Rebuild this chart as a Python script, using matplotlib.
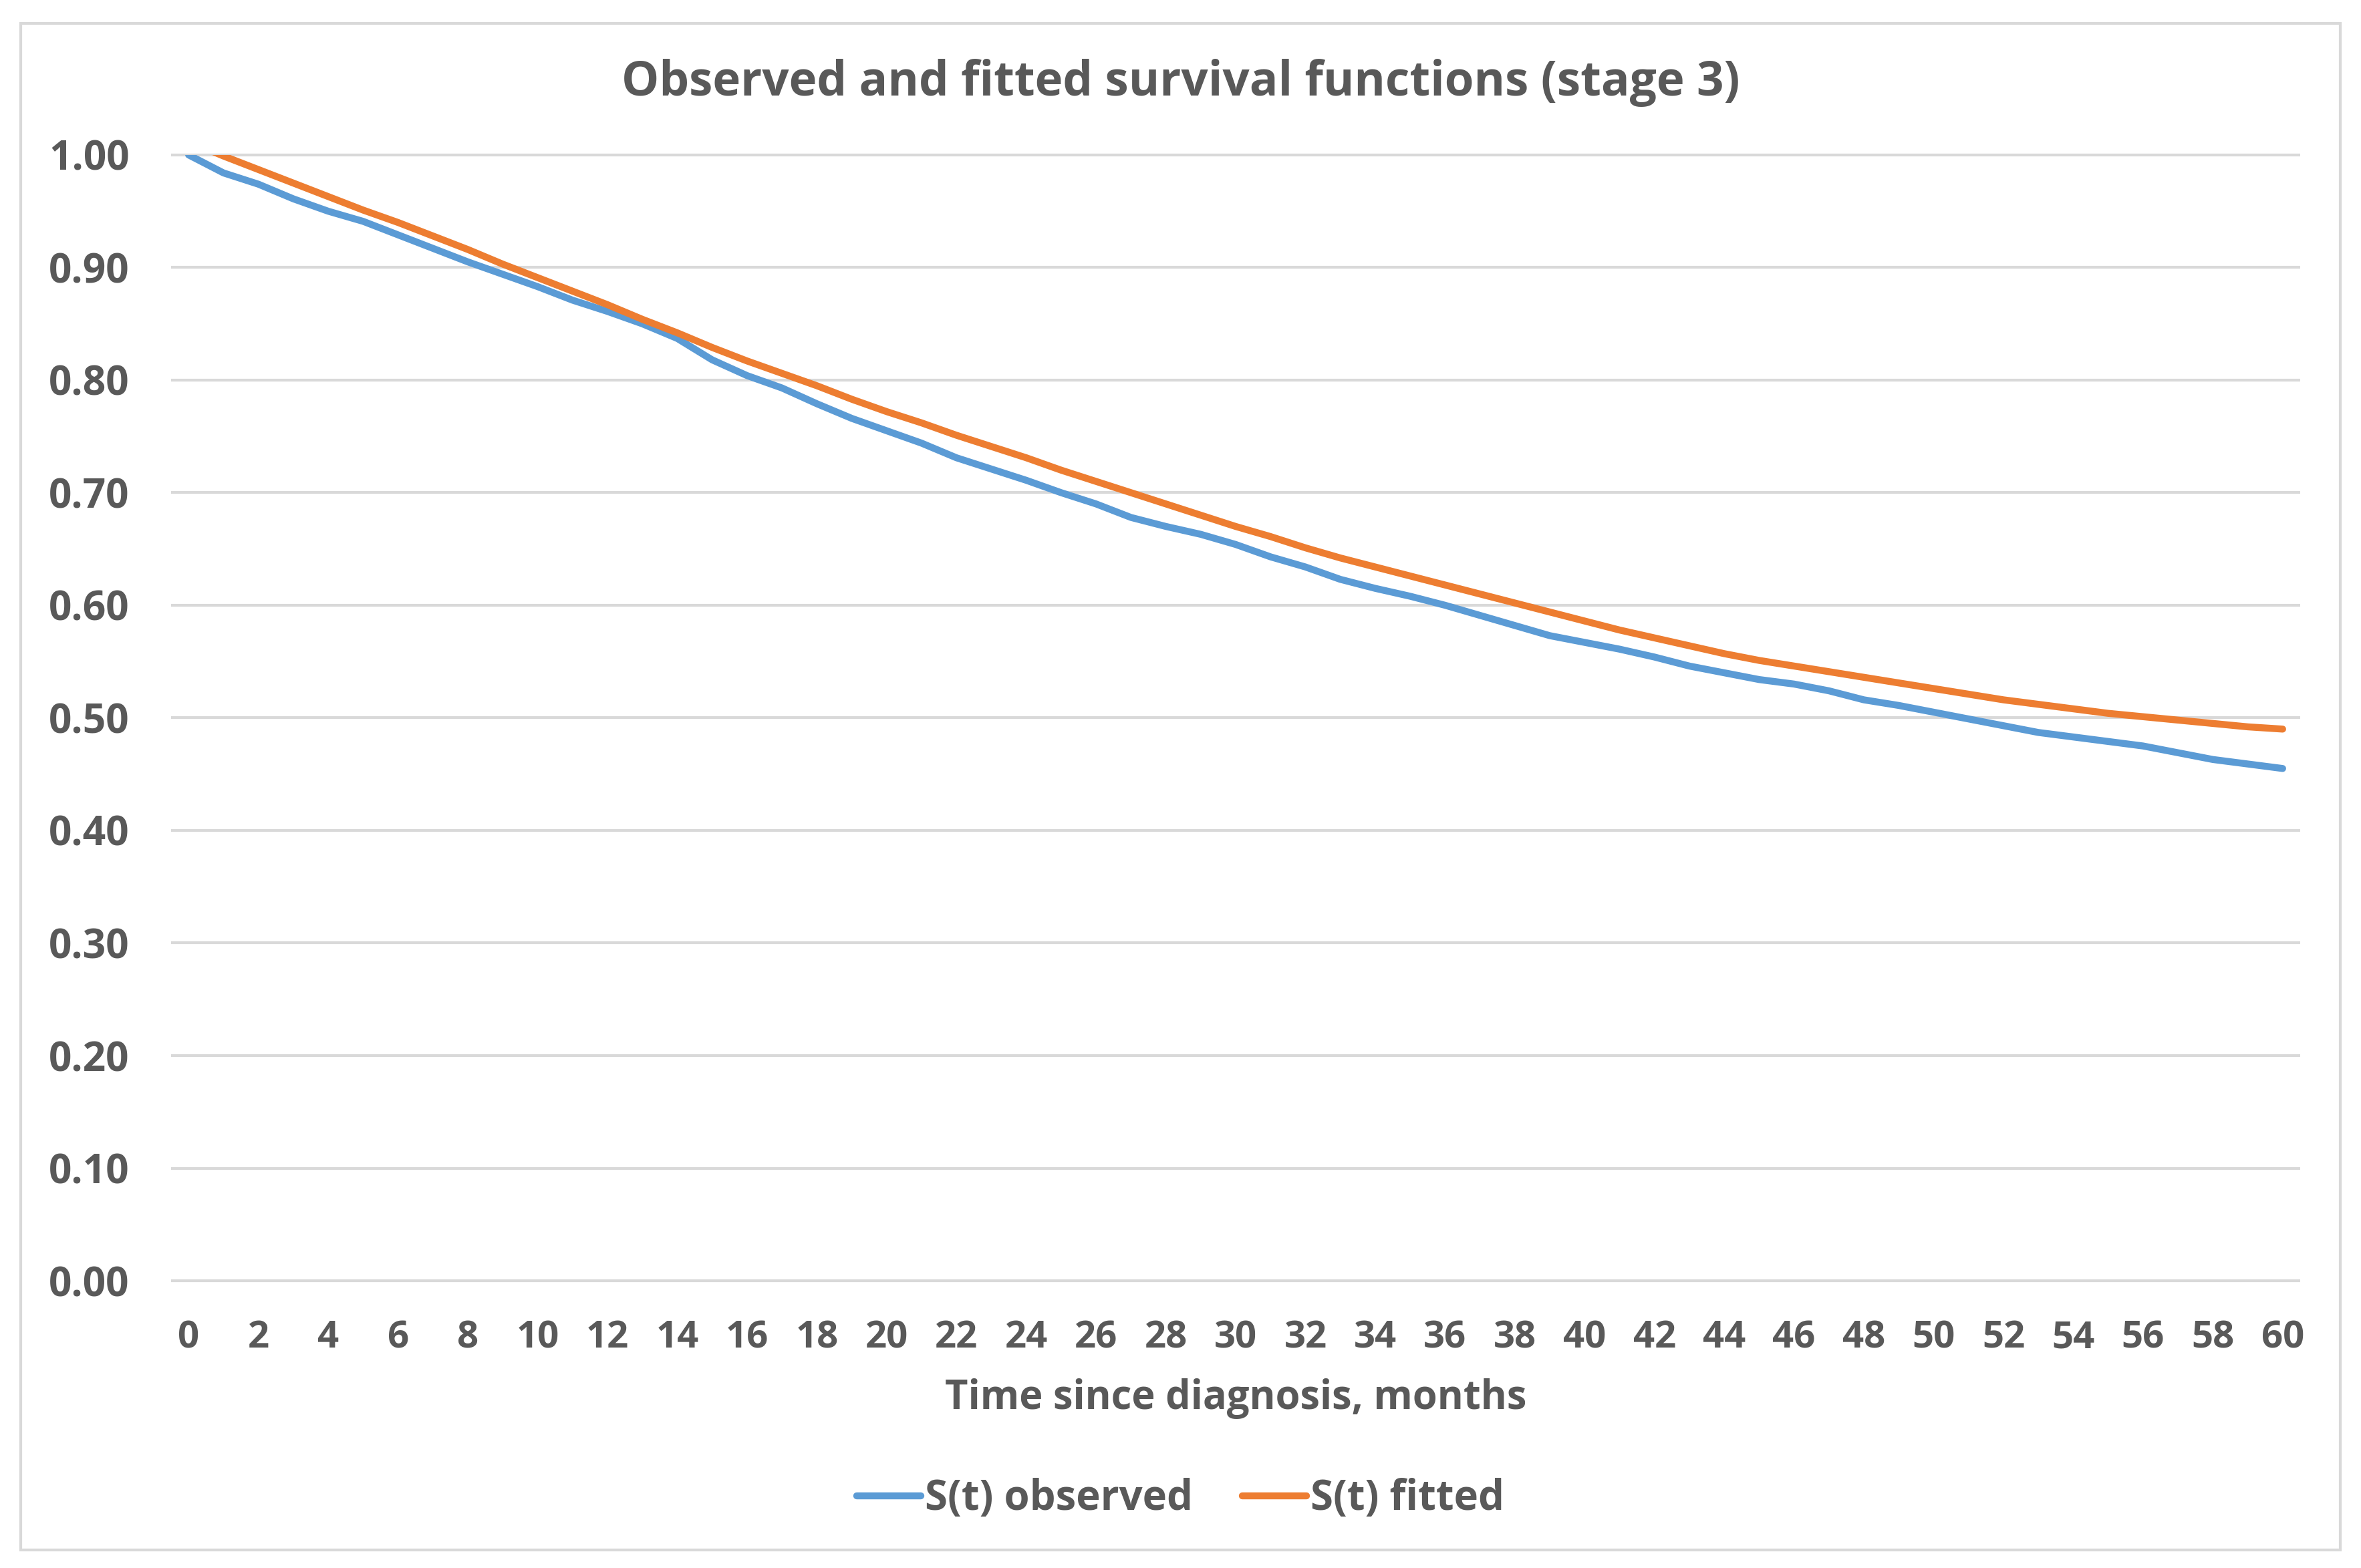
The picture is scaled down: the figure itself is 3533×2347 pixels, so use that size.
import numpy as np
import matplotlib
matplotlib.use("Agg")
import matplotlib.pyplot as plt
from matplotlib.patches import Rectangle

plt.rcParams['font.family'] = ['Open Sans', 'DejaVu Sans']
plt.rcParams['font.weight'] = 'bold'

# months since diagnosis (categories)
months = np.arange(0, 61)

# observed survival S(t)
observed = [1.000, 0.984, 0.974, 0.961, 0.950, 0.941, 0.929, 0.917, 0.905, 0.894,
            0.883, 0.871, 0.861, 0.850, 0.837, 0.818, 0.804, 0.793, 0.779, 0.766,
            0.755, 0.744, 0.731, 0.721, 0.711, 0.700, 0.690, 0.678, 0.670, 0.663,
            0.654, 0.643, 0.634, 0.623, 0.615, 0.608, 0.600, 0.591, 0.582, 0.573,
            0.567, 0.561, 0.554, 0.546, 0.540, 0.534, 0.530, 0.524, 0.516, 0.511,
            0.505, 0.499, 0.493, 0.487, 0.483, 0.479, 0.475, 0.469, 0.463, 0.459,
            0.455]

# fitted survival S(t) (first value sits just above the axis maximum)
fitted = [1.012, 0.999, 0.987, 0.975, 0.963, 0.951, 0.940, 0.928, 0.916, 0.903,
          0.891, 0.879, 0.867, 0.854, 0.842, 0.829, 0.817, 0.806, 0.795, 0.783,
          0.772, 0.762, 0.751, 0.741, 0.731, 0.720, 0.710, 0.700, 0.690, 0.680,
          0.670, 0.661, 0.651, 0.642, 0.634, 0.626, 0.618, 0.610, 0.602, 0.594,
          0.586, 0.578, 0.571, 0.564, 0.557, 0.551, 0.546, 0.541, 0.536, 0.531,
          0.526, 0.521, 0.516, 0.512, 0.508, 0.504, 0.501, 0.498, 0.495, 0.492,
          0.490]

yticks = np.round(np.arange(0, 1.01, 0.1), 2)
xticks = months[::2]

text_col = '#595959'
grid_col = '#D9D9D9'

fig = plt.figure(figsize=(3533 / 300, 2347 / 300), dpi=300)

# outer chart border
fig.patches.append(Rectangle((0.0087, 0.0115), 0.9825, 0.9735, transform=fig.transFigure,
                             fill=False, edgecolor=grid_col, linewidth=1.0))

ax = fig.add_axes([0.0725, 0.1832, 0.9742 - 0.0725, 0.9012 - 0.1832])
ax.hlines(yticks, -0.5, 60.5, colors=grid_col, linewidth=1.0, clip_on=False, zorder=0.5)

ax.plot(months, observed, color='#5B9BD5', lw=2.5, solid_capstyle='round',
        solid_joinstyle='round', label='S(t) observed', zorder=2)
ax.plot(months, fitted, color='#ED7D31', lw=2.5, solid_capstyle='round',
        solid_joinstyle='round', label='S(t) fitted', zorder=3)

ax.set_xlim(-0.5, 60.5)
ax.set_ylim(0, 1.0)
ax.set_xticks(xticks)
ax.set_xticklabels([str(m) for m in xticks])
ax.set_yticks(yticks)
ax.set_yticklabels(['%.2f' % v for v in yticks])
ax.tick_params(axis='both', length=0, labelcolor=text_col)
ax.tick_params(axis='x', pad=14, labelsize=13.5)
ax.tick_params(axis='y', pad=15, labelsize=14.5)
for s in ax.spines.values():
    s.set_visible(False)

fig.text(0.5, 0.947, 'Observed and fitted survival functions (stage 3)', ha='center', va='center',
         fontsize=17, fontweight='bold', color=text_col)
fig.text(0.5234, 0.108, 'Time since diagnosis, months', ha='center', va='center',
         fontsize=14.3, fontweight='bold', color=text_col)

leg = fig.legend(loc='center', bbox_to_anchor=(0.5, 0.044), ncol=2, frameon=False,
                 handlelength=1.55, handletextpad=0.1, columnspacing=1.2,
                 prop={'size': 14.8, 'weight': 'bold'})
for t in leg.get_texts():
    t.set_color(text_col)

fig.savefig('out.png', dpi=300, facecolor='white')
